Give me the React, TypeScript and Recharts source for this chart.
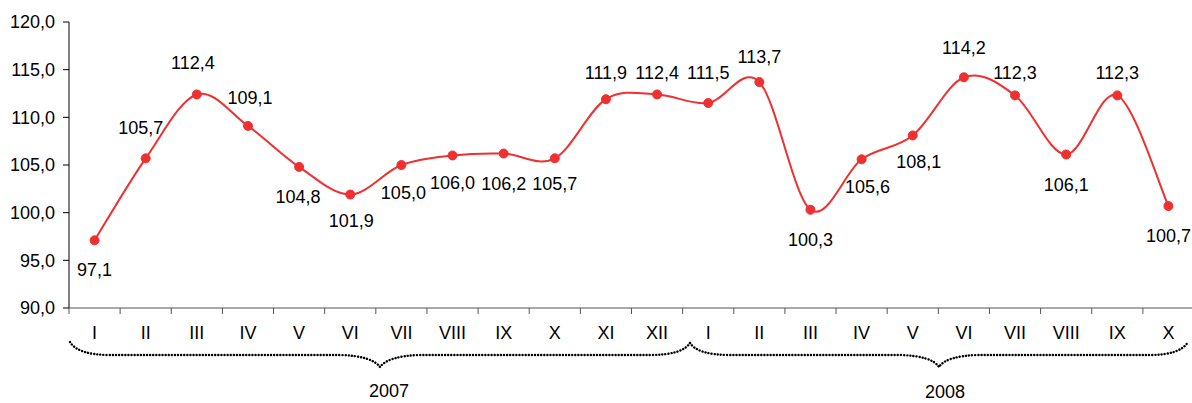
import { LineChart, Line, XAxis, YAxis } from 'recharts';

// data
const months = [
  'I', 'II', 'III', 'IV', 'V', 'VI', 'VII', 'VIII', 'IX', 'X', 'XI', 'XII',
  'I', 'II', 'III', 'IV', 'V', 'VI', 'VII', 'VIII', 'IX', 'X',
];
const values = [
  97.1, 105.7, 112.4, 109.1, 104.8, 101.9, 105.0, 106.0, 106.2, 105.7, 111.9, 112.4,
  111.5, 113.7, 100.3, 105.6, 108.1, 114.2, 112.3, 106.1, 112.3, 100.7,
];
const yTicks = [90, 95, 100, 105, 110, 115, 120];
const years = ['2007', '2008'];

const data = months.map((m, i) => ({ id: i, month: m, value: values[i] }));

// styling
const RED = '#ee3030';
const FONT = '"Liberation Sans", Arial, sans-serif';
const FS = 18;
const CHART_W = 1194;
const CHART_H = 403;
const Y_AXIS_W = 69;
const BAND = (CHART_W - Y_AXIS_W) / months.length;

// label placement [dx, dy] per point
const labelOffsets: [number, number][] = [
  [0, 30], [-5, -30], [-4, -31], [2, -28], [-1, 30], [1, 26], [2, 28], [0, 28],
  [0, 30], [0, 26], [0, -26], [0, -21], [0, -30], [0, -25], [0, 30], [6, 28],
  [6, 27], [0, -29], [0, -22], [0, 30], [0, -22], [0, 30],
];

const fmt = (v: number) => v.toFixed(1).replace('.', ',');

// Catmull-Rom style smoothing, close to Excel's smoothed line
function smoothCurve(context: any) {
  let pts: [number, number][] = [];
  return {
    areaStart() {},
    areaEnd() {},
    lineStart() {
      pts = [];
    },
    lineEnd() {
      const n = pts.length;
      if (!n) return;
      context.moveTo(pts[0][0], pts[0][1]);
      for (let i = 0; i < n - 1; i++) {
        const p0 = pts[Math.max(i - 1, 0)];
        const p1 = pts[i];
        const p2 = pts[i + 1];
        const p3 = pts[Math.min(i + 2, n - 1)];
        const t = 1 / 6;
        context.bezierCurveTo(
          p1[0] + (p2[0] - p0[0]) * t,
          p1[1] + (p2[1] - p0[1]) * t,
          p2[0] - (p3[0] - p1[0]) * t,
          p2[1] - (p3[1] - p1[1]) * t,
          p2[0],
          p2[1],
        );
      }
    },
    point(x: number, y: number) {
      pts.push([+x, +y]);
    },
  };
}

function MonthTick(props: any) {
  const { x, y, payload } = props;
  const left = x - BAND / 2;
  return (
    <g>
      <line x1={left} y1={y} x2={left} y2={y + 6} stroke="#555" />
      <text
        x={x}
        y={y + 25}
        textAnchor="middle"
        dominantBaseline="central"
        fontSize={FS}
        fontFamily={FONT}
        fill="#000"
      >
        {payload.value}
      </text>
    </g>
  );
}

function renderLabel(props: any) {
  const { x, y, value, index } = props;
  const [dx, dy] = labelOffsets[index] ?? [0, -28];
  return (
    <text
      key={`lbl-${index}`}
      x={x + dx}
      y={y + dy}
      textAnchor="middle"
      dominantBaseline="central"
      fontSize={FS}
      fontFamily={FONT}
      fill="#000"
    >
      {fmt(value)}
    </text>
  );
}

const dotLine = {
  fill: 'none',
  stroke: '#000',
  strokeWidth: 2.4,
  strokeDasharray: '0.1 3',
  strokeLinecap: 'round' as const,
};

export default function App() {
  return (
    <div style={{ position: 'relative', width: 1192, height: 403, overflow: 'hidden', background: '#fff' }}>
      <style>{'body{margin:0}'}</style>
      <LineChart
        width={CHART_W}
        height={CHART_H}
        data={data}
        margin={{ top: 22, right: 0, bottom: 55, left: 0 }}
      >
        <XAxis
          dataKey="id"
          height={40}
          interval={0}
          padding={{ left: BAND / 2, right: BAND / 2 }}
          tickLine={false}
          tickSize={0}
          tickMargin={0}
          axisLine={{ stroke: '#555' }}
          tick={(p: any) => <MonthTick {...p} payload={{ value: months[p.payload.value] }} />}
        />
        <YAxis
          width={Y_AXIS_W}
          domain={[90, 120]}
          ticks={yTicks}
          interval={0}
          tickFormatter={fmt}
          tickSize={6}
          tickMargin={8}
          axisLine={{ stroke: '#000' }}
          tickLine={{ stroke: '#000' }}
          tick={{ fontSize: FS, fontFamily: FONT, fill: '#000' }}
        />
        <Line
          dataKey="value"
          type={smoothCurve as any}
          stroke={RED}
          strokeWidth={2}
          dot={{ r: 4.5, fill: RED, stroke: RED, strokeWidth: 1 }}
          activeDot={false}
          label={renderLabel}
          isAnimationActive={false}
        />
      </LineChart>
      <svg
        width={1192}
        height={403}
        style={{ position: 'absolute', left: 0, top: 0, pointerEvents: 'none' }}
      >
        <path d="M70,342 Q78,355 110,355 L340,355 Q372,356 380,367 Q388,356 420,355 L650,355 Q682,355 690,343" {...dotLine} />
        <path d="M690,343 Q698,355 730,355 L900,355 Q932,356 939,367 Q946,356 978,355 L1150,355 Q1180,355 1188,342" {...dotLine} />
        <text x={389} y={391} textAnchor="middle" dominantBaseline="central" fontSize={FS} fontFamily={FONT}>
          {years[0]}
        </text>
        <text x={945} y={392} textAnchor="middle" dominantBaseline="central" fontSize={FS} fontFamily={FONT}>
          {years[1]}
        </text>
      </svg>
    </div>
  );
}
